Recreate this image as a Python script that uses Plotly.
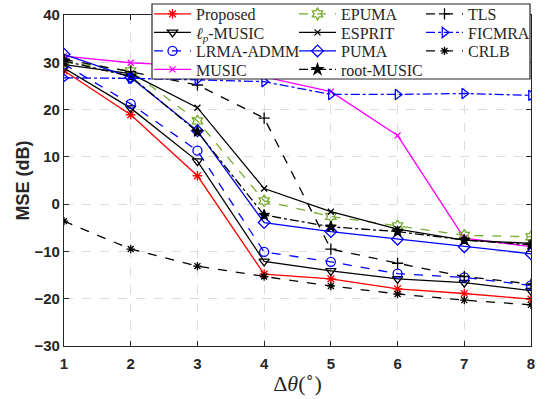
import plotly.graph_objects as go

x = [1, 2, 3, 4, 5, 6, 7, 8]

proposed   = [28.2, 18.9, 6.0, -14.8, -15.8, -17.9, -18.9, -20.1]
lp_music   = [28.8, 20.3, 9.1, -12.1, -14.1, -15.8, -16.6, -18.3]
lrma_admm  = [29.6, 21.2, 11.3, -10.1, -12.2, -14.7, -15.5, -17.2]
music      = [31.3, 29.9, 29.2, 26.9, 23.8, 14.5, -7.2, -9.0]
epuma      = [30.0, 28.2, 17.6, 0.7, -2.6, -4.6, -6.6, -6.9]
esprit     = [29.5, 27.6, 20.4, 3.3, -1.6, -5.3, -7.6, -8.3]
puma       = [31.7, 26.8, 15.5, -3.9, -5.8, -7.4, -9.0, -10.5]
root_music = [30.3, 27.0, 15.3, -2.3, -4.8, -5.8, -7.6, -8.6]
tls        = [30.6, 28.0, 25.2, 18.2, -9.5, -12.5, -15.3, -16.9]
ficmra     = [26.7, 26.6, 26.3, 25.9, 23.2, 23.2, 23.4, 23.0]
crlb       = [-3.6, -9.5, -13.1, -15.3, -17.3, -19.0, -20.3, -21.3]

RED = "#ff0000"
BLK = "#000000"
BLU = "#0000ff"
MAG = "#ff00ff"
GRN = "#77ac30"

# (name, data, color, dash, symbol, marker size, legend column, legend row)
series = [
    ("Proposed", proposed, RED, "solid", "asterisk-open", 8, 0, 0),
    ("<i>ℓ</i><sub><i>p</i></sub>-MUSIC", lp_music, BLK, "solid", "triangle-down-open", 9, 0, 1),
    ("LRMA-ADMM", lrma_admm, BLU, "dash", "circle-open", 9, 0, 2),
    ("MUSIC", music, MAG, "solid", "x-thin-open", 6, 0, 3),
    ("EPUMA", epuma, GRN, "dash", "hexagram-open", 9, 1, 0),
    ("ESPRIT", esprit, BLK, "solid", "x-thin-open", 6, 1, 1),
    ("PUMA", puma, BLU, "solid", "diamond-open", 9, 1, 2),
    ("root-MUSIC", root_music, BLK, "dashdot", "star", 8, 1, 3),
    ("TLS", tls, BLK, "dash", "cross-thin-open", 8, 2, 0),
    ("FICMRA", ficmra, BLU, "dashdot", "triangle-right-open", 9, 2, 1),
    ("CRLB", crlb, BLK, "dash", "asterisk-open", 7, 2, 2),
]

# plot-area geometry in pixels (for placing the legend entries)
L, R, T, B = 64, 531, 15, 346
col_px = [149, 294, 421]
row_px = [14, 32.5, 51, 69.5]

fig = go.Figure()
legends = {}
for i, (name, data, col, dash, sym, sz, c, r) in enumerate(series):
    lname = "legend" if i == 0 else f"legend{i + 1}"
    fig.add_trace(go.Scatter(
        x=x, y=data, name=name, mode="lines+markers", legend=lname,
        line=dict(color=col, width=1.3, dash=dash),
        marker=dict(symbol=sym, size=sz, color=col,
                    line=dict(color=col, width=1.3)),
    ))
    legends[lname] = dict(
        x=(col_px[c] - L) / (R - L), xanchor="left",
        y=(B - row_px[r]) / (B - T), yanchor="middle",
        bgcolor="rgba(0,0,0,0)", borderwidth=0,
        font=dict(family="Liberation Serif", size=16, color="#262626"),
        itemwidth=37,
    )

axis_common = dict(
    showline=True, linecolor="#262626", linewidth=1.3, mirror="ticks",
    ticks="inside", ticklen=5, tickcolor="#262626",
    showgrid=True, gridcolor="#dcdcdc", griddash="dash", gridwidth=1,
    zeroline=False,
    tickfont=dict(family="Liberation Sans", size=15, color="#262626", weight="bold"),
)

fig.update_xaxes(range=[1, 8], tickvals=x, ticklabelstandoff=4, **axis_common,
                 title=dict(text="Δ<i>θ</i>(<sup>∘</sup>)",
                            font=dict(family="Liberation Serif", size=22, color="#262626"),
                            standoff=4))
fig.update_yaxes(range=[-30, 40], tickvals=[-30, -20, -10, 0, 10, 20, 30, 40], **axis_common,
                 title=dict(text="<b>MSE (dB)</b>",
                            font=dict(family="Liberation Sans", size=18, color="#262626"),
                            standoff=0))

fig.update_layout(
    width=546, height=399,
    margin=dict(l=L, r=546 - R, t=T, b=399 - B, autoexpand=False),
    plot_bgcolor="white", paper_bgcolor="white",
    showlegend=True,
    shapes=[dict(
        type="rect", xref="paper", yref="paper", layer="above",
        x0=(152 - L) / (R - L), x1=(530 - L) / (R - L),
        y0=(B - 79) / (B - T), y1=(B - 4) / (B - T),
        fillcolor="white", line=dict(color="#262626", width=1.2),
    )],
    **legends,
)

fig.write_html("out.html")
